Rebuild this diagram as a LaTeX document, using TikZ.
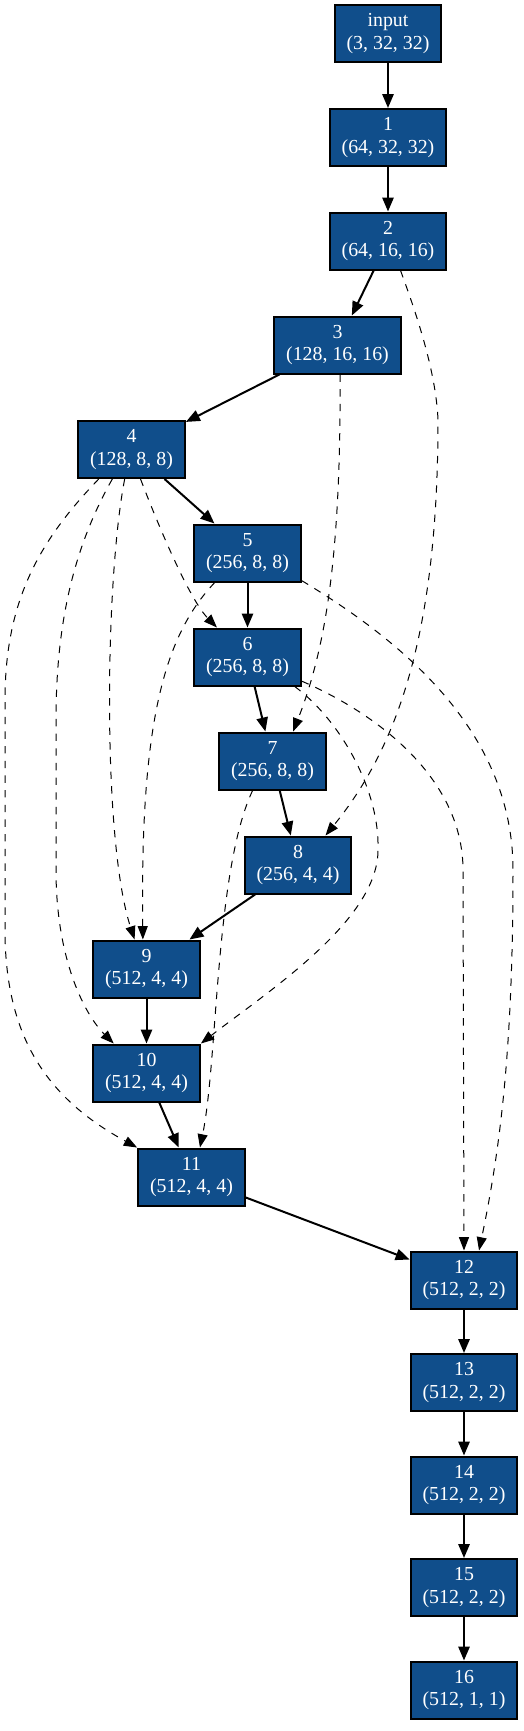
\documentclass[tikz,border=0pt]{standalone}
\usepackage{fontspec}
\setmainfont{Liberation Serif}
\usetikzlibrary{arrows.meta}
\definecolor{layerblue}{HTML}{104E8B}

\begin{document}
\begin{tikzpicture}[x=0.75pt,y=-0.75pt,
  layer/.style={draw=black,line width=1.5pt,fill=layerblue,text=white,align=center,
    minimum height=42.75pt,inner xsep=9pt,inner ysep=0pt,font=\fontsize{14.9}{17}\selectfont},
  flow/.style={line width=1.5pt,-{Triangle[length=10.5pt,width=8.5pt]}},
  shortcut/.style={line width=0.75pt,dash pattern=on 5.5pt off 5.5pt,-{Triangle[length=10pt,width=7.5pt]}}]
\useasboundingbox (0,0) rectangle (524,1731);
\foreach \n/\x/\y/\t/\s in {input/388/33.5/input/{3, 32, 32}, l1/388/137.5/1/{64, 32, 32},
    l2/388/241/2/{64, 16, 16}, l3/337.5/345/3/{128, 16, 16}, l4/131.5/449.5/4/{128, 8, 8},
    l5/247.5/553/5/{256, 8, 8}, l6/247.5/657/6/{256, 8, 8}, l7/272.5/761/7/{256, 8, 8},
    l8/298/865/8/{256, 4, 4}, l9/146.5/969/9/{512, 4, 4}, l10/146.5/1073/10/{512, 4, 4},
    l11/191.5/1177/11/{512, 4, 4}, l12/464/1280/12/{512, 2, 2}, l13/464/1382.5/13/{512, 2, 2},
    l14/464/1485/14/{512, 2, 2}, l15/464/1587.5/15/{512, 2, 2}, l16/464/1690/16/{512, 1, 1}}
  \node[layer] (\n) at (\x,\y) {\t\\(\s)};
% main path
\foreach \a/\b in {input/l1,l1/l2,l2/l3,l3/l4,l4/l5,l5/l6,l6/l7,l7/l8,l8/l9,l9/l10,l10/l11,
    l11/l12,l12/l13,l13/l14,l14/l15,l15/l16}
  \draw[flow] (\a) -- (\b);
% skip connections
\draw[shortcut] (l2.-67) .. controls (415,310) and (436,370) .. (438,420) .. controls (438,640) and (395,750) .. (l8.47);
\draw[shortcut] (l3.-85) .. controls (341,560) and (325,650) .. (l7.55);
\draw[shortcut] (l4.-73) .. controls (160,530) and (190,600) .. (l6.136);
\draw[shortcut] (l4.-103) .. controls (105,580) and (102,840) .. (l9.112);
\draw[shortcut] (l4.-123) .. controls (75,545) and (56,620) .. (56,720) -- (56,870) .. controls (56,960) and (85,1015) .. (l10.138);
\draw[shortcut] (l4.-138) .. controls (40,540) and (5,600) .. (5,700) -- (5,930) .. controls (5,1040) and (50,1100) .. (l11.north west);
\draw[shortcut] (l5.-138) .. controls (165,635) and (140,720) .. (l9.97);
\draw[shortcut] (l5.-27) .. controls (400,640) and (513,730) .. (513,870) .. controls (513,1050) and (500,1150) .. (l12.63);
\draw[shortcut] (l6.-32) .. controls (340,720) and (380,790) .. (378,850) .. controls (378,920) and (270,990) .. (l10.north east);
\draw[shortcut] (l6.-24) .. controls (380,715) and (463,780) .. (463,870) -- (l12.north);
\draw[shortcut] (l7.-124) .. controls (215,870) and (218,1060) .. (l11.74);
\end{tikzpicture}
\end{document}
